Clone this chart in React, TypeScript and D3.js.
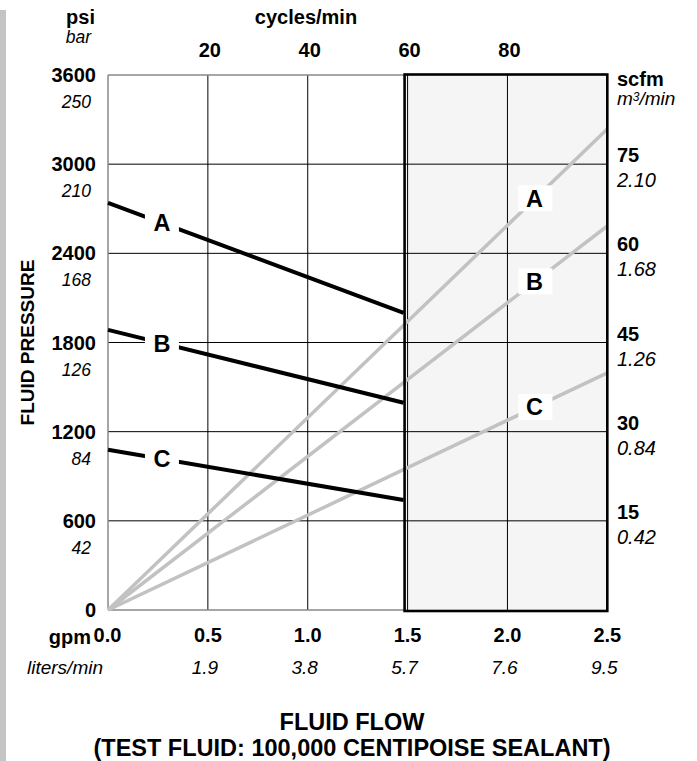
import React from 'react';
import * as d3 from 'd3';

// ---- data ----
const gpmTicks = [0, 0.5, 1.0, 1.5, 2.0, 2.5];
const gpmLabels = ['0.0', '0.5', '1.0', '1.5', '2.0', '2.5'];
const litersLabels = ['', '1.9', '3.8', '5.7', '7.6', '9.5'];
const cycleTicks = [20, 40, 60, 80];
const psiTicks = [0, 600, 1200, 1800, 2400, 3000, 3600];
const barLabels = ['', '42', '84', '126', '168', '210', '250'];
const scfmTicks = [15, 30, 45, 60, 75];
const m3Labels = ['0.42', '0.84', '1.26', '1.68', '2.10'];

const seriesNames = ['A', 'B', 'C'];
// fluid pressure (psi) vs fluid flow (gpm) — black lines
const fluidGpm = [0, 1.48];
const fluidPsiA = [2740, 2000];
const fluidPsiB = [1885, 1395];
const fluidPsiC = [1078, 740];
// air consumption (scfm) vs fluid flow (gpm) — grey lines
const airGpm = [0, 2.5];
const airScfmA = [0, 80.9];
const airScfmB = [0, 64.6];
const airScfmC = [0, 39.9];

const fluidLabelGpm = 0.27;
const airLabelGpm = 2.14;

const FONT = 'Liberation Sans, Arial, Helvetica, sans-serif';

export default function App() {
  const W = 697;
  const H = 761;
  const x = d3.scaleLinear().domain([0, 2.5]).range([108, 607.3]);
  const xc = d3.scaleLinear().domain([0, 100]).range([108, 607.3]);
  const y = d3.scaleLinear().domain([0, 3600]).range([610, 75]);
  const yR = d3.scaleLinear().domain([0, 90]).range([610, 75]);

  const fluid = [fluidPsiA, fluidPsiB, fluidPsiC];
  const air = [airScfmA, airScfmB, airScfmC];

  const fluidLine = d3
    .line<[number, number]>()
    .x((d) => x(d[0]))
    .y((d) => y(d[1]));
  const airLine = d3
    .line<[number, number]>()
    .x((d) => x(d[0]))
    .y((d) => yR(d[1]));

  const boxX0 = x(1.5) - 3;
  const boxX1 = x(2.5);
  const yTop = y(3600);
  const yBot = y(0);

  return (
    <div style={{ position: 'absolute', left: 0, top: 0 }}>
      <svg width={W} height={H} style={{ display: 'block', background: '#fff' }} fontFamily={FONT}>
        {/* left grey bar */}
        <rect x={0} y={10} width={6} height={H - 10} fill="#c4c4c4" />

        {/* shaded box fill */}
        <rect x={boxX0} y={yTop} width={boxX1 - boxX0} height={yBot - yTop + 1} fill="#f5f5f5" />

        {/* grid lines */}
        {gpmTicks.slice(1, 5).map((g) => (
          <line key={'vx' + g} x1={x(g)} x2={x(g)} y1={yTop} y2={yBot} stroke="#000" strokeWidth={1} />
        ))}
        {psiTicks.slice(1, 6).map((p) => (
          <line key={'hy' + p} x1={x(0)} x2={boxX1} y1={y(p)} y2={y(p)} stroke="#000" strokeWidth={1} />
        ))}

        {/* plot frame (left part, grey) */}
        <line x1={x(0)} x2={x(0)} y1={yTop} y2={yBot} stroke="#888" strokeWidth={1.5} />
        <line x1={x(0)} x2={boxX0} y1={yTop} y2={yTop} stroke="#888" strokeWidth={1.5} />
        <line x1={x(0)} x2={boxX0} y1={yBot} y2={yBot} stroke="#888" strokeWidth={1.5} />

        {/* air consumption lines */}
        {air.map((vals, i) => (
          <path
            key={'air' + i}
            d={airLine(airGpm.map((g, j) => [g, vals[j]] as [number, number])) || ''}
            fill="none"
            stroke="#c2c2c2"
            strokeWidth={3.5}
          />
        ))}

        {/* fluid pressure lines */}
        {fluid.map((vals, i) => (
          <path
            key={'fl' + i}
            d={fluidLine(fluidGpm.map((g, j) => [g, vals[j]] as [number, number])) || ''}
            fill="none"
            stroke="#000"
            strokeWidth={4}
          />
        ))}

        {/* box outline */}
        <rect
          x={boxX0}
          y={yTop - 0.5}
          width={boxX1 - boxX0}
          height={yBot - yTop + 1.5}
          fill="none"
          stroke="#000"
          strokeWidth={2.6}
        />

        {/* labels on fluid lines */}
        {fluid.map((vals, i) => {
          const v = d3.scaleLinear().domain(fluidGpm).range(vals)(fluidLabelGpm);
          const cx = x(fluidLabelGpm);
          const cy = y(v);
          return (
            <g key={'fll' + i}>
              <rect x={cx - 17} y={cy - 13} width={34} height={26} fill="#fff" />
              <text x={cx} y={cy + 8.5} textAnchor="middle" fontWeight="bold" fontSize={23.5}>
                {seriesNames[i]}
              </text>
            </g>
          );
        })}

        {/* labels on air lines */}
        {air.map((vals, i) => {
          const v = d3.scaleLinear().domain(airGpm).range(vals)(airLabelGpm);
          const cx = x(airLabelGpm);
          const cy = yR(v);
          return (
            <g key={'al' + i}>
              <rect x={cx - 17} y={cy - 13} width={34} height={26} fill="#fff" />
              <text x={cx - 1} y={cy + 8.5} textAnchor="middle" fontWeight="bold" fontSize={23.5}>
                {seriesNames[i]}
              </text>
            </g>
          );
        })}

        {/* left axis labels */}
        <text x={95} y={24} textAnchor="end" fontWeight="bold" fontSize={20}>psi</text>
        <text x={91} y={43} textAnchor="end" fontStyle="italic" fontSize={17.5}>bar</text>
        {psiTicks.map((p, i) => (
          <g key={'pl' + p}>
            <text x={96} y={y(p) + 7} textAnchor="end" fontWeight="bold" fontSize={20}>
              {p}
            </text>
            {barLabels[i] && (
              <text x={91} y={y(p) + 33} textAnchor="end" fontStyle="italic" fontSize={17.5}>
                {barLabels[i]}
              </text>
            )}
          </g>
        ))}
        <text
          transform={`translate(34, ${(yTop + yBot) / 2}) rotate(-90)`}
          textAnchor="middle"
          fontWeight="bold"
          fontSize={19}
        >
          FLUID PRESSURE
        </text>

        {/* top axis */}
        <text x={306} y={24} textAnchor="middle" fontWeight="bold" fontSize={20}>cycles/min</text>
        {cycleTicks.map((c) => (
          <text key={'ct' + c} x={xc(c) + 2} y={57} textAnchor="middle" fontWeight="bold" fontSize={20}>
            {c}
          </text>
        ))}

        {/* right axis */}
        <text x={617} y={86} fontWeight="bold" fontSize={20}>scfm</text>
        <text x={617} y={105} fontStyle="italic" fontSize={19}>
          m<tspan fontSize={12} dy={-4}>3</tspan>
          <tspan dy={4}>/min</tspan>
        </text>
        {scfmTicks.map((s, i) => (
          <g key={'sc' + s}>
            <text x={617} y={yR(s) - 2} fontWeight="bold" fontSize={20}>{s}</text>
            <text x={617} y={yR(s) + 23} fontStyle="italic" fontSize={20}>{m3Labels[i]}</text>
          </g>
        ))}

        {/* bottom axis */}
        <text x={91} y={644} textAnchor="end" fontWeight="bold" fontSize={20}>gpm</text>
        <text x={103} y={674} textAnchor="end" fontStyle="italic" fontSize={19}>liters/min</text>
        {gpmTicks.map((g, i) => (
          <g key={'bx' + g}>
            <text x={x(g) + (i === 0 ? -0.5 : 0)} y={642} textAnchor="middle" fontWeight="bold" fontSize={20}>
              {gpmLabels[i]}
            </text>
            {litersLabels[i] && (
              <text x={x(g) - 3} y={674} textAnchor="middle" fontStyle="italic" fontSize={19}>
                {litersLabels[i]}
              </text>
            )}
          </g>
        ))}

        {/* bottom title */}
        <text x={352} y={730} textAnchor="middle" fontWeight="bold" fontSize={23.5}>FLUID FLOW</text>
        <text x={352} y={756} textAnchor="middle" fontWeight="bold" fontSize={23.5}>
          (TEST FLUID: 100,000 CENTIPOISE SEALANT)
        </text>
      </svg>
    </div>
  );
}
